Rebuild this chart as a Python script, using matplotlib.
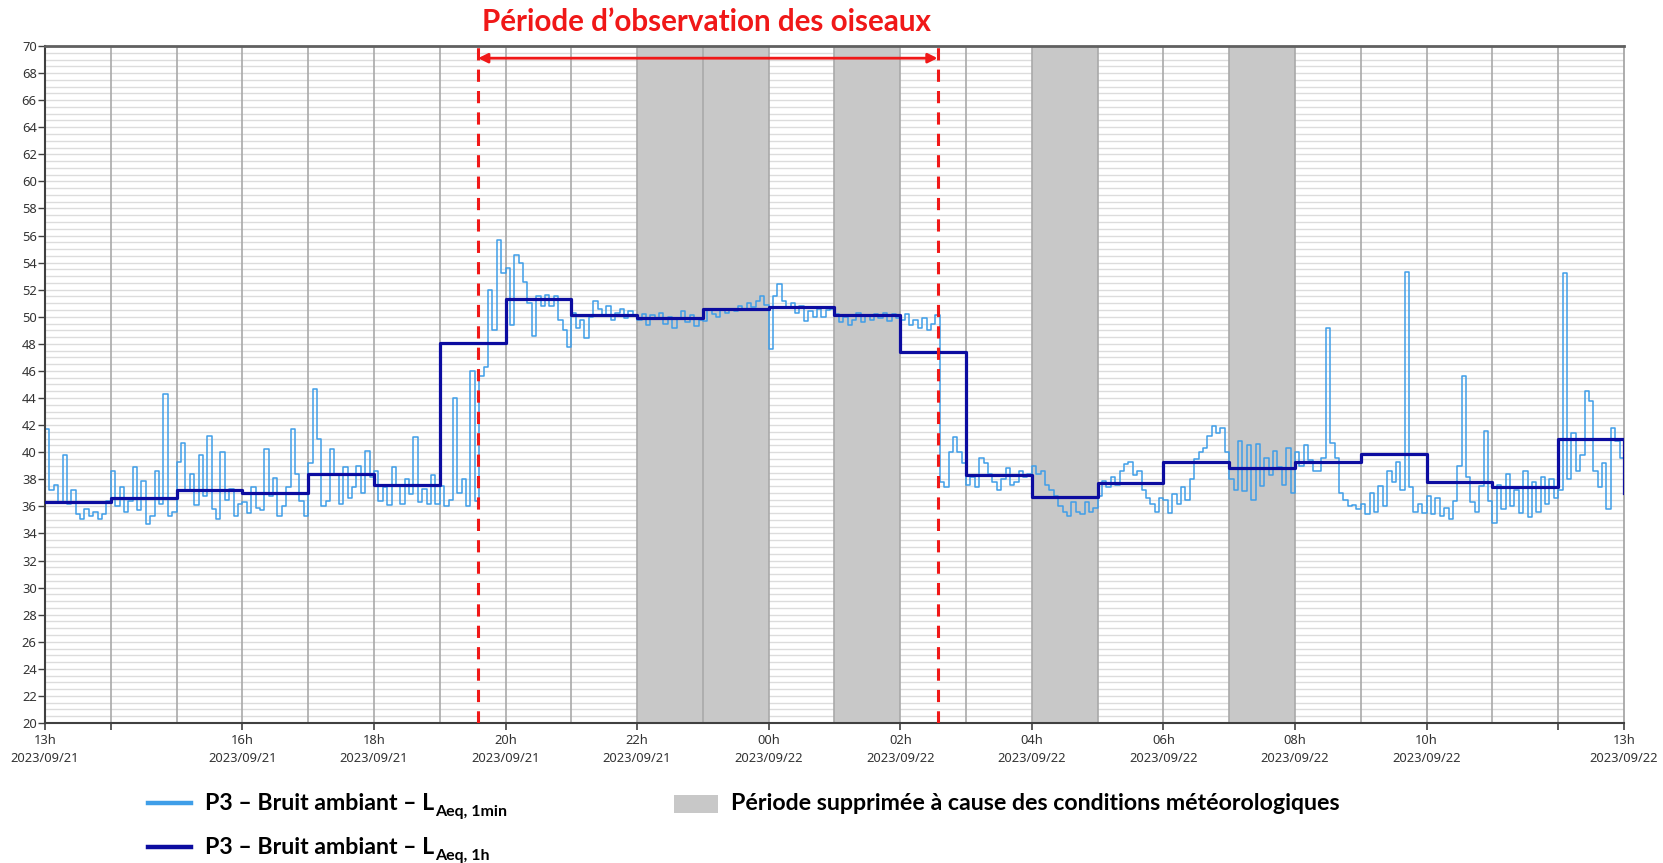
import numpy as np
import matplotlib
matplotlib.use("Agg")
import matplotlib.pyplot as plt
from matplotlib.ticker import MultipleLocator, FixedLocator

plt.rcParams["font.family"] = ["Noto Sans", "DejaVu Sans"]

# temps en heures depuis 13h le 2023/09/21
PAS_H = 4 / 60  # un point toutes les 4 minutes

# P3 - LAeq relevé (pas de 4 min), une ligne par heure
LAEQ_COURT = [
    41.7, 37.2, 37.6, 36.3, 39.8, 36.2, 37.2, 35.4, 35.1, 35.8, 35.3, 35.6, 35.1, 35.4, 36.4,  # 13h
    38.6, 36.0, 37.4, 35.6, 36.4, 38.9, 35.7, 37.9, 34.7, 35.3, 38.6, 36.2, 44.3, 35.3, 35.6,  # 14h
    39.3, 40.7, 37.2, 38.4, 36.1, 39.8, 36.8, 41.2, 35.8, 35.1, 40.0, 36.5, 37.3, 35.3, 36.2,  # 15h
    36.3, 35.5, 37.4, 35.9, 35.7, 40.2, 36.8, 38.1, 35.3, 36.0, 37.4, 41.7, 38.4, 36.4, 35.3,  # 16h
    39.2, 44.7, 41.0, 36.0, 36.4, 40.2, 38.3, 36.2, 38.9, 36.6, 37.4, 39.0, 37.0, 40.1, 38.2,  # 17h
    38.6, 36.4, 37.4, 36.1, 38.9, 37.6, 36.2, 38.0, 36.9, 41.1, 36.3, 37.3, 36.2, 38.3, 36.2,  # 18h
    37.5, 36.0, 36.5, 44.0, 37.0, 38.0, 36.0, 46.0, 36.4, 45.6, 46.3, 52.0, 49.0, 55.7, 53.2,  # 19h
    53.6, 49.4, 54.6, 54.0, 52.6, 51.0, 48.6, 51.5, 50.8, 51.6, 50.8, 51.5, 49.8, 49.0, 47.8,  # 20h
    50.3, 49.2, 49.8, 48.4, 50.0, 51.2, 50.6, 50.1, 50.8, 49.8, 50.3, 50.6, 49.9, 50.4, 50.1,  # 21h
    49.8, 50.2, 49.4, 50.1, 49.9, 50.3, 49.5, 50.0, 49.2, 49.9, 50.4, 49.6, 50.1, 49.3, 49.8,  # 22h
    49.7, 50.5, 50.2, 50.0, 50.5, 50.3, 50.6, 50.4, 50.8, 50.6, 51.0, 50.7, 51.2, 51.5, 50.9,  # 23h
    47.6, 51.5, 52.4, 51.2, 50.7, 51.0, 50.3, 50.8, 49.7, 50.4, 50.0, 50.6, 50.0, 50.5, 50.6,  # 00h
    50.2, 49.6, 50.0, 49.4, 49.8, 50.3, 49.6, 50.1, 49.8, 50.2, 49.9, 50.3, 49.7, 50.2, 49.9,  # 01h
    49.8, 50.2, 49.4, 49.8, 49.2, 49.9, 49.0, 49.5, 50.1, 37.8, 37.4, 40.0, 41.1, 40.0, 39.2,  # 02h
    37.6, 38.2, 37.4, 39.6, 39.2, 38.4, 37.8, 37.2, 38.0, 38.8, 37.6, 37.8, 38.6, 38.2, 38.4,  # 03h
    39.0, 38.4, 38.6, 37.6, 37.2, 36.8, 36.0, 35.6, 35.3, 36.3, 35.6, 35.4, 36.3, 35.6, 35.9,  # 04h
    36.8, 37.9, 37.4, 38.2, 37.6, 38.6, 39.1, 39.3, 38.3, 38.6, 37.2, 36.6, 36.2, 35.6, 36.6,  # 05h
    36.5, 35.5, 36.9, 36.2, 37.4, 36.5, 38.0, 39.5, 40.0, 40.3, 41.2, 41.9, 41.4, 41.8, 40.0,  # 06h
    38.0, 37.2, 40.8, 37.1, 40.5, 36.5, 40.6, 37.5, 39.6, 38.3, 40.1, 38.9, 37.6, 40.3, 37.0,  # 07h
    40.0, 39.0, 40.5, 39.4, 38.6, 38.6, 39.6, 49.2, 40.7, 39.6, 37.0, 36.5, 36.0, 36.1, 35.8,  # 08h
    36.2, 35.4, 37.0, 35.6, 37.5, 36.0, 38.6, 37.8, 39.3, 37.2, 53.3, 37.4, 35.6, 36.2, 35.5,  # 09h
    36.8, 35.4, 36.6, 35.3, 35.9, 35.1, 36.4, 39.0, 45.6, 38.2, 36.3, 35.6, 37.5, 41.6, 36.4,  # 10h
    34.8, 37.6, 35.8, 38.4, 36.0, 37.2, 35.5, 38.6, 35.2, 37.8, 35.6, 38.2, 36.2, 38.0, 36.6,  # 11h
    37.2, 53.2, 38.0, 41.4, 38.6, 39.8, 44.5, 43.8, 38.6, 37.4, 39.2, 35.8, 41.8, 40.8, 39.6,  # 12h
    39.6,
]

# P3 - LAeq horaire (13h -> 12h), dernière valeur = fin de la courbe à 13h
LAEQ_1H = [36.3, 36.6, 37.2, 37.0, 38.4, 37.6, 48.1, 51.3, 50.1, 49.9, 50.6, 50.7,
           50.1, 47.4, 38.3, 36.7, 37.7, 39.3, 38.8, 39.3, 39.9, 37.8, 37.4, 41.0, 37.0]

# périodes supprimées (heures depuis 13h)
PERIODES_SUPPR = [(9, 11), (12, 13), (15, 16), (18, 19)]
# période d'observation des oiseaux : 19h35 -> 02h34
OBS_DEBUT = 6 + 35 / 60
OBS_FIN = 13 + 34 / 60

TICK_HEURES = [0, 1, 3, 5, 7, 9, 11, 13, 15, 17, 19, 21, 23, 24]
TICK_LABELS = ["13h\n2023/09/21", "", "16h\n2023/09/21", "18h\n2023/09/21",
               "20h\n2023/09/21", "22h\n2023/09/21", "00h\n2023/09/22",
               "02h\n2023/09/22", "04h\n2023/09/22", "06h\n2023/09/22",
               "08h\n2023/09/22", "10h\n2023/09/22", "", "13h\n2023/09/22"]

BLEU_CLAIR = "#3f9ee8"
BLEU_FONCE = "#0c0ca0"
ROUGE = "#f01818"
GRIS_ZONE = "#c8c8c8"

W, H = 1663, 863
fig = plt.figure(figsize=(W / 100, H / 100), dpi=100)


def fx(x):
    return x / W


def fy(y):
    return 1 - y / H


ax = fig.add_axes([fx(45), fy(723), fx(1624) - fx(45), fy(46) - fy(723)])

# grille horizontale fine (0.5 dB)
ax.set_ylim(20, 70)
ax.set_xlim(0, 24)
ax.yaxis.set_major_locator(MultipleLocator(2))
ax.yaxis.set_minor_locator(MultipleLocator(0.5))
ax.grid(which="both", axis="y", color="#dcdcdc", linewidth=1.0, zorder=0)
ax.set_axisbelow(True)

# zones supprimées
for debut, fin in PERIODES_SUPPR:
    ax.axvspan(debut, fin, color=GRIS_ZONE, lw=0, zorder=0.8)

# grille verticale horaire
ax.vlines(np.arange(1, 24), 20, 70, color="#a9a9a9", linewidth=1.2, zorder=0.9)

t_court = np.arange(len(LAEQ_COURT)) * PAS_H
t_court[-1] = 24
ax.plot(t_court, LAEQ_COURT, color=BLEU_CLAIR, lw=1.1, drawstyle="steps-post", zorder=2)

t_1h = np.arange(len(LAEQ_1H))
ax.plot(t_1h, LAEQ_1H, color=BLEU_FONCE, lw=2.3, drawstyle="steps-post", zorder=3)

# période d'observation
for xv in (OBS_DEBUT, OBS_FIN):
    ax.axvline(xv, color=ROUGE, lw=2.2, linestyle=(0, (4, 3)), zorder=4)
ax.annotate("", xy=(OBS_FIN, 69.1), xytext=(OBS_DEBUT, 69.1),
            arrowprops=dict(arrowstyle="<|-|>", color=ROUGE, lw=2, mutation_scale=14,
                            shrinkA=0, shrinkB=0), zorder=5)

# axes
ax.xaxis.set_major_locator(FixedLocator(TICK_HEURES))
ax.set_xticklabels(TICK_LABELS)
ax.tick_params(axis="x", which="major", length=5, width=1.2, color="#404040",
               labelsize=9.3, labelcolor="#333333", pad=3)
ax.tick_params(axis="y", which="major", length=5, width=1.0, color="#404040",
               labelsize=9.3, labelcolor="#333333", pad=1)
ax.tick_params(which="minor", length=0)
for lab in ax.get_xticklabels():
    lab.set_linespacing(1.5)

for side in ("left", "bottom"):
    ax.spines[side].set_color("#404040")
    ax.spines[side].set_linewidth(1.5)
ax.spines["top"].set_color("#606060")
ax.spines["top"].set_linewidth(2.0)
ax.spines["right"].set_color("#a0a0a0")
ax.spines["right"].set_linewidth(1.2)

# titre
fig.text(fx(706), fy(22), "Période d’observation des oiseaux", color=ROUGE,
         fontsize=21.3, fontweight="bold", family=["Lato", "DejaVu Sans"],
         ha="center", va="center")

# légende
renderer = fig.canvas.get_renderer()
leg_font = dict(fontsize=16.7, fontweight="bold", family=["Lato", "DejaVu Sans"], color="black")


def ligne_legende(y, couleur, indice):
    fig.add_artist(plt.Line2D([fx(148), fx(191)], [fy(y), fy(y)], color=couleur, lw=3.2,
                              transform=fig.transFigure))
    t = fig.text(fx(205), fy(y), "P3 – Bruit ambiant – L", ha="left", va="center", **leg_font)
    bb = t.get_window_extent(renderer=renderer)
    fig.text(bb.x1 / W + 0.0005, fy(y + 9), indice, ha="left", va="center",
             fontsize=11.5, fontweight="bold", family=["Lato", "DejaVu Sans"], color="black")


ligne_legende(803, BLEU_CLAIR, "Aeq, 1min")
ligne_legende(847, BLEU_FONCE, "Aeq, 1h")

fig.add_artist(plt.Rectangle((fx(674), fy(813)), fx(718) - fx(674), fy(795) - fy(813),
                             color=GRIS_ZONE, lw=0, transform=fig.transFigure))
fig.text(fx(731), fy(803), "Période supprimée à cause des conditions météorologiques",
         ha="left", va="center", **leg_font)

fig.savefig("out.png", dpi=100)
